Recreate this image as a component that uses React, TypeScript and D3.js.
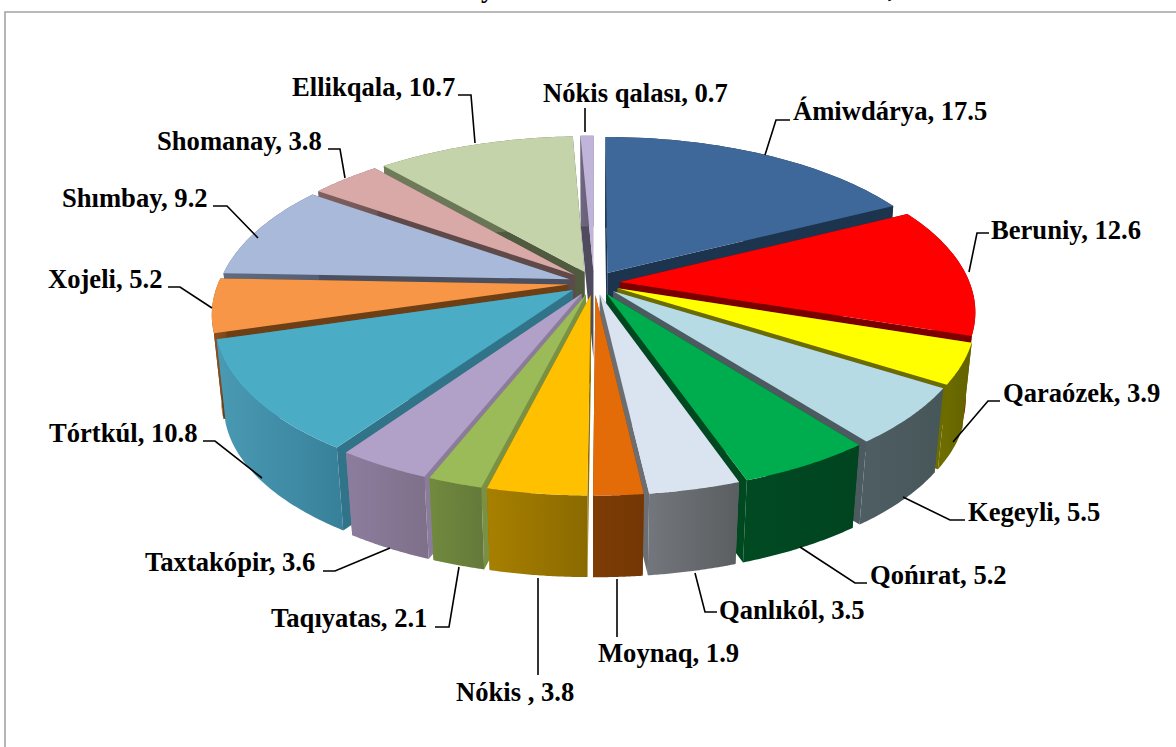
import * as d3 from "d3";

const districts = ["Ámiwdárya", "Beruniy", "Qaraózek", "Kegeyli", "Qońırat", "Qanlıkól", "Moynaq", "Nókis ", "Taqıyatas", "Taxtakópir", "Tórtkúl", "Xojeli", "Shımbay", "Shomanay", "Ellikqala", "Nókis qalası"];
const shares = [17.5, 12.6, 3.9, 5.5, 5.2, 3.5, 1.9, 3.8, 2.1, 3.6, 10.8, 5.2, 9.2, 3.8, 10.7, 0.7];

const topColors = ["#3E6899", "#FF0000", "#FFFF00", "#B7DBE5", "#00AD4E", "#DAE3F0", "#E36C09", "#FFC000", "#9BBB59", "#B1A0C7", "#4BACC6", "#F79646", "#A9B9DA", "#D9A9A8", "#C4D3A9", "#C0B4D8"];
const wallColors = ["#1D344F", "#7A0000", "#6B6B00", "#4C5B60", "#004920", "#6B6F74", "#7B3A05", "#8E6E00", "#7A9144", "#8A7C9A", "#31748A", "#6E3F15", "#4B5060", "#5F4A49", "#4F5A3E", "#4F4A5E"];
const rimLeft = ["#1D344F", "#8C0000", "#6F6F00", "#4F5E63", "#004A22", "#73777D", "#7E3C06", "#A88000", "#708A3E", "#8C7D9E", "#4A9AB4", "#8C5020", "#5F6B80", "#80605F", "#6F7C5A", "#6F6680"];
const rimRight = ["#1D344F", "#7A0000", "#626200", "#475659", "#004420", "#5A5E60", "#743704", "#8A6A00", "#64793A", "#7E7089", "#38809A", "#7C4718", "#566075", "#705554", "#647050", "#655D75"];

// label box left edge, vertical centre, and leader line points
const labelSpots: [number, number][] = [[793, 111], [991, 230], [1003, 393], [968, 512], [870, 575], [719, 610], [598, 653], [456, 692], [271, 618], [145, 562], [49, 433], [48, 279], [62, 198], [157, 141], [292, 87], [543, 93]];
const leaders: [number, number][][] = [
  [[765, 155], [776, 120], [790, 120]],
  [[969, 272], [977, 233], [989, 233]],
  [[953, 442], [988, 401], [1000, 401]],
  [[903, 497], [950, 520], [965, 520]],
  [[800, 547], [855, 583], [867, 583]],
  [[695, 573], [705, 612], [717, 612]],
  [[617, 579], [617, 637]],
  [[538, 578], [538, 675]],
  [[459, 567], [449, 627], [435, 627]],
  [[390, 548], [335, 571], [323, 571]],
  [[262, 478], [215, 441], [203, 441]],
  [[212, 308], [180, 287], [168, 287]],
  [[258, 238], [227, 206], [213, 206]],
  [[345, 178], [340, 149], [328, 149]],
  [[475, 143], [471, 95], [458, 95]],
  [[585, 132], [585, 108]],
];

const cx = 594;
const cy = 283;
const radiusX = 350;
const radiusY = 162;
const perspective = 0.169;
const explode = 0.074;
const depth = 87;
const shrink = 0.975;

function project(x: number, y: number, bottom: boolean): [number, number] {
  const s = 1 / (1 - perspective * y);
  const px = x * radiusX * s;
  const py = y * radiusY * s;
  if (!bottom) return [cx + px, cy + py];
  return [cx + px * shrink, cy + py * shrink + depth];
}

const line = d3.line();

function buildSlices() {
  const arcs = d3.pie<number>().sort(null)(shares);
  return arcs.map((a, i) => {
    const mid = (a.startAngle + a.endAngle) / 2;
    const ox = Math.sin(mid) * explode;
    const oy = -Math.cos(mid) * explode;
    const rimAt = (t: number, bottom: boolean) => project(ox + Math.sin(t), oy - Math.cos(t), bottom);
    const steps = d3.range(0, 41).map((k) => a.startAngle + ((a.endAngle - a.startAngle) * k) / 40);
    const apexTop = project(ox, oy, false);
    const apexBottom = project(ox, oy, true);
    const rimTop = steps.map((t) => rimAt(t, false));
    const rimBottom = steps.map((t) => rimAt(t, true));
    const last = steps.length - 1;
    return {
      i,
      sortY: oy - Math.cos(mid),
      top: line([apexTop, ...rimTop])! + "Z",
      rim: line([...rimTop, ...[...rimBottom].reverse()])! + "Z",
      startWall: line([apexTop, rimTop[0], rimBottom[0], apexBottom])! + "Z",
      endWall: line([apexTop, rimTop[last], rimBottom[last], apexBottom])! + "Z",
    };
  });
}

export default function App() {
  const slices = buildSlices().sort((a, b) => d3.ascending(a.sortY, b.sortY));
  const font = "'Liberation Serif', 'Times New Roman', serif";

  return (
    <svg width={1176} height={747} viewBox="0 0 1176 747" style={{ position: "absolute", left: 0, top: 0, background: "white" }}>
      <defs>
        {districts.map((d, i) => (
          <linearGradient key={d} id={`rim-${i}`} x1="0" x2="1" y1="0" y2="0">
            <stop offset="0" stopColor={rimLeft[i]} />
            <stop offset="1" stopColor={rimRight[i]} />
          </linearGradient>
        ))}
      </defs>

      <text x={481} y={-3} fontFamily={font} fontWeight="bold" fontSize={26.6}>y</text>
      <text x={888} y={-3} fontFamily={font} fontWeight="bold" fontSize={26.6}>,</text>
      <path d="M5,747V12H1176" fill="none" stroke="#A3A3A3" strokeWidth={1.6} />

      {slices.map((s) => (
        <g key={s.i}>
          <path d={s.startWall} fill={wallColors[s.i]} />
          <path d={s.endWall} fill={wallColors[s.i]} />
          <path d={s.rim} fill={`url(#rim-${s.i})`} />
          <path d={s.top} fill={topColors[s.i]} />
        </g>
      ))}

      {leaders.map((pts, i) => (
        <path key={i} d={line(pts)!} fill="none" stroke="black" strokeWidth={1.6} />
      ))}

      {districts.map((d, i) => (
        <text
          key={d}
          x={labelSpots[i][0]}
          y={labelSpots[i][1]}
          dy="0.34em"
          fontFamily={font}
          fontWeight="bold"
          fontSize={26.6}
          xmlSpace="preserve"
          fill="black"
        >
          {`${d}, ${shares[i]}`}
        </text>
      ))}
    </svg>
  );
}
